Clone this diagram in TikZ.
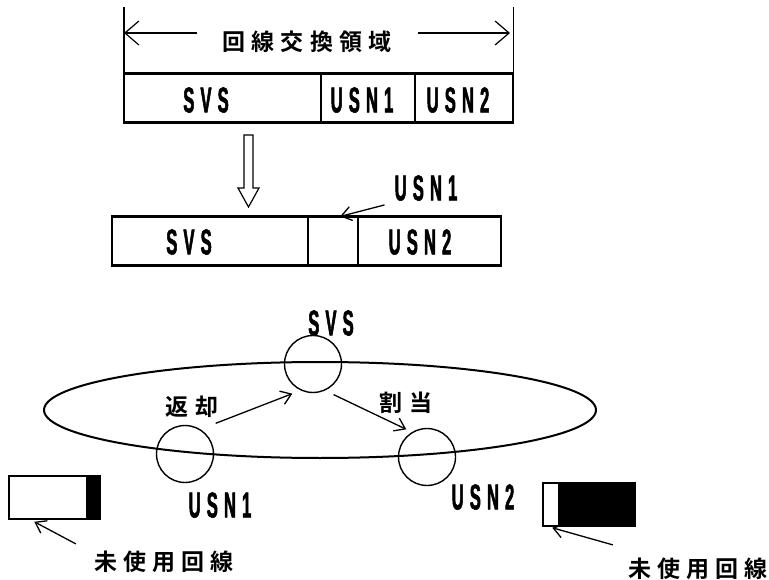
\documentclass[tikz,border=0pt]{standalone}
\usepackage{fontspec}
\setmainfont{Liberation Sans}
\newfontfamily\jpfont[LetterSpace=27]{Noto Sans CJK JP Bold}
\newfontfamily\labfont[FakeStretch=0.46,FakeBold=1.5,LetterSpace=17]{Liberation Sans Bold}
\usetikzlibrary{arrows.meta}

\begin{document}
\begin{tikzpicture}[x=1pt,y=-1pt]
  \tikzset{
    cell/.style={draw,line width=1.1pt,minimum height=48pt,inner sep=0pt,anchor=west},
    frame/.style={line width=2pt},
    lbl/.style={inner sep=0pt,font=\labfont\fontsize{36}{36}\selectfont},
    jlbl/.style={inner sep=0pt,font=\jpfont\fontsize{23}{23}\selectfont},
    ring/.style={draw,circle,line width=1.4pt,minimum size=57pt,inner sep=0pt},
    dimarrow/.style={line width=1.2pt,-{Straight Barb[length=14pt,width=24pt]}},
    thinarrow/.style={line width=1.3pt,-{Straight Barb[length=10pt,width=14pt]}},
    idle/.style={draw,line width=1.5pt,minimum height=43pt,inner sep=0pt}
  }
  \useasboundingbox (0,0) rectangle (769,580);

  \node[cell,minimum width=196pt] (svsA) at (124,98) {};
  \node[cell,minimum width=93pt] (usnA1) at (svsA.east) {};
  \node[cell,minimum width=97pt] (usnA2) at (usnA1.east) {};
  \draw[frame] (svsA.north west) rectangle (usnA2.south east);
  \node[lbl] (tSvsA) at (206,100) {SVS};
  \node[lbl] (tUsnA1) at (362,100) {USN1};
  \node[lbl] (tUsnA2) at (458,100) {USN2};

  \coordinate (dimL) at (124,33);
  \coordinate (dimR) at (510,33);
  \coordinate (arrL) at (197,33);
  \coordinate (arrR) at (418,33);
  \draw[line width=1.2pt] (svsA.north west) -- ++(0,-66);
  \draw[line width=1.2pt] (usnA2.north east) -- ++(0,-66);
  \node[jlbl] (title) at (307,42) {回線交換領域};
  \draw[dimarrow] (arrL) -- (dimL);
  \draw[dimarrow] (arrR) -- (dimR);

  \draw[line width=1.2pt] (244,135) -- (253,135) -- (253,188) -- (259,188)
    -- (248.5,207) -- (238,188) -- (244,188) -- cycle;

  \node[cell,minimum width=195pt] (svsB) at (112,241) {};
  \node[cell,minimum width=49pt] (usnB1) at (svsB.east) {};
  \node[cell,minimum width=142pt] (usnB2) at (usnB1.east) {};
  \draw[frame] (svsB.north west) rectangle (usnB2.south east);
  \node[lbl] (tSvsB) at (189,242) {SVS};
  \node[lbl] (tUsnB2) at (420,242) {USN2};
  \node[lbl] (lblB1) at (426,188) {USN1};
  \draw[thinarrow] ([shift={(-10pt,-4pt)}]lblB1.south west) -- ([xshift=7pt]usnB1.north);

  \draw[line width=2pt] (320,410) ellipse [x radius=276pt,y radius=48pt];
  \node[ring] (svsC) at (313,364) {};
  \node[ring] (usnC1) at (185,454) {};
  \node[ring] (usnC2) at (427,457) {};
  \node[lbl] (lblSvs) at (331,323) {SVS};
  \node[lbl] (lblC1) at (220,505) {USN1};
  \node[lbl] (lblC2) at (483,497) {USN2};
  \node[jlbl] (lblRet) at (192,407) {返却};
  \node[jlbl] (lblAlloc) at (406,403) {割当};
  \draw[thinarrow] ([shift={(10pt,10pt)}]usnC1.north east) -- ([yshift=-9pt]svsC.south west);
  \draw[thinarrow] ([yshift=-10pt]svsC.south east) -- ([yshift=7pt]usnC2.north west);

  \node[idle,minimum width=91pt] (idleL) at (54.5,497.5) {};
  \fill ([xshift=-15pt]idleL.north east) rectangle (idleL.south east);
  \node[idle,minimum width=92pt] (idleR) at (589,504.5) {};
  \fill ([xshift=-78pt]idleR.north east) rectangle (idleR.south east);
  \node[jlbl] (lblIdleL) at (164,562) {未使用回線};
  \node[jlbl] (lblIdleR) at (698,569) {未使用回線};
  \draw[thinarrow] ([shift={(-18pt,7pt)}]lblIdleL.north west) -- ([shift={(26pt,-2pt)}]idleL.south west);
  \draw[thinarrow] ([shift={(-15pt,13pt)}]lblIdleR.north west) -- ([shift={(10pt,-1pt)}]idleR.south west);
\end{tikzpicture}
\end{document}
